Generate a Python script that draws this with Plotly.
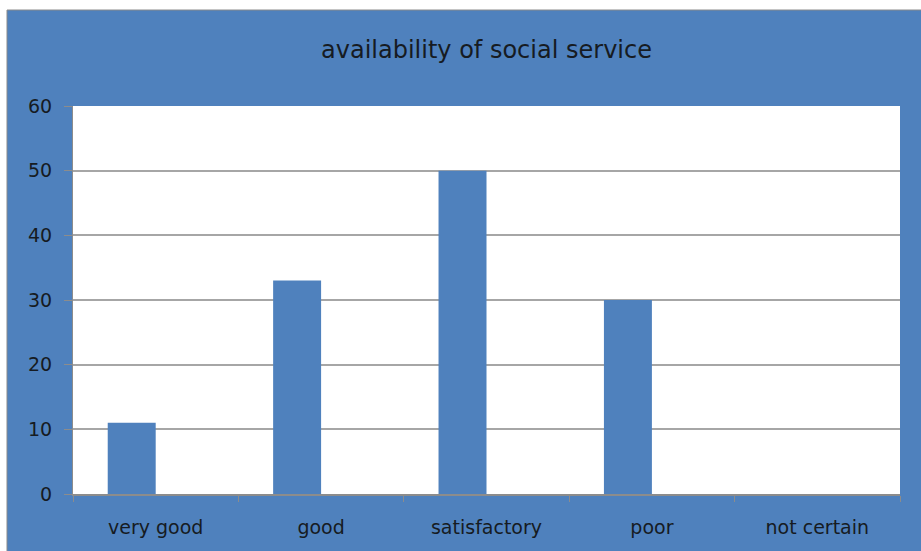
import plotly.graph_objects as go

categories = ["very good", "good", "satisfactory", "poor", "not certain"]
values = [11, 33, 50, 30, 0]
empty_series = [None, None, None, None, None]
y_ticks = [0, 10, 20, 30, 40, 50, 60]

BLUE = "#4F81BD"
TEXT = "#161b22"
FONT = "DejaVu Sans, sans-serif"

fig = go.Figure()
fig.add_trace(go.Bar(x=categories, y=values, marker=dict(color=BLUE, line=dict(width=0)), showlegend=False))
fig.add_trace(go.Bar(x=categories, y=empty_series, marker=dict(color=BLUE), showlegend=False))

W, H = 921, 551
L, R, T, B = 73, 21, 106, 57
pw, ph = W - L - R, H - T - B

def px(x):
    return (x - L) / pw

def py(y):
    return (H - B - y) / ph

fig.add_shape(type="rect", xref="paper", yref="paper",
              x0=px(7), x1=px(925), y0=py(555), y1=py(10),
              fillcolor=BLUE, line=dict(color="#8a8a8a", width=1), layer="below")
fig.add_shape(type="rect", xref="paper", yref="paper",
              x0=0, x1=1, y0=0, y1=1,
              fillcolor="white", line=dict(width=0), layer="below")

fig.update_layout(
    width=W, height=H,
    margin=dict(l=L, r=R, t=T, b=B),
    paper_bgcolor="white", plot_bgcolor="white",
    barmode="group", bargap=0.42, bargroupgap=0,
    title=dict(text="availability of social service", x=0.5, xref="paper", xanchor="center",
               y=1 - 50 / H, yanchor="middle",
               font=dict(family=FONT, size=24, color=TEXT)),
    font=dict(family=FONT, size=19, color=TEXT),
)
fig.update_xaxes(type="category", tickson="boundaries", ticks="outside", ticklen=6,
                 tickcolor="#8c8c8c", showline=True, linecolor="#8c8c8c", linewidth=1.5,
                 showgrid=False, ticklabelstandoff=15,
                 tickfont=dict(family=FONT, size=19, color=TEXT))
fig.update_yaxes(range=[0, 60], tickvals=y_ticks, ticks="outside", ticklen=8,
                 tickcolor="#8c8c8c", showline=True, linecolor="#8c8c8c", linewidth=1,
                 showgrid=True, gridcolor="#a6a6a6", gridwidth=1.5, zeroline=False,
                 ticklabelstandoff=8,
                 tickfont=dict(family=FONT, size=19, color=TEXT))

fig.write_html("out.html")
